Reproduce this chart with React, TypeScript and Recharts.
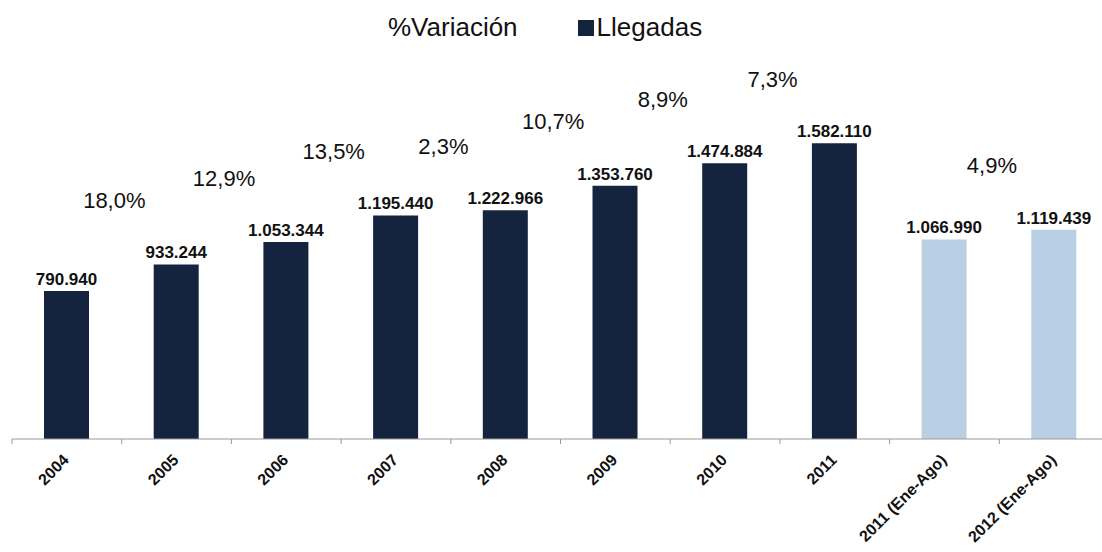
import React from 'react';
import { BarChart, Bar, XAxis, YAxis, Cell, LabelList } from 'recharts';

const categorias = [
  '2004',
  '2005',
  '2006',
  '2007',
  '2008',
  '2009',
  '2010',
  '2011',
  '2011 (Ene-Ago)',
  '2012 (Ene-Ago)'
];
const llegadas = [790940, 933244, 1053344, 1195440, 1222966, 1353760, 1474884, 1582110, 1066990, 1119439];
const variacion = [null, 18.0, 12.9, 13.5, 2.3, 10.7, 8.9, 7.3, null, 4.9];
const periodoParcial = [false, false, false, false, false, false, false, false, true, true];

const data = categorias.map((c, i) => ({
  categoria: c,
  llegadas: llegadas[i],
  variacion: variacion[i],
  parcial: periodoParcial[i]
}));

const CHART_W = 1110;
const CHART_H = 552;
const MARGIN = { top: 65, right: 1, left: 12, bottom: 0 };
const BAND = (CHART_W - MARGIN.left - MARGIN.right) / categorias.length;

const OSCURO = '#14243f';
const CLARO = '#b8cfe4';
const FONT = '"Liberation Sans", Arial, sans-serif';

const miles = (v: number) => String(v).replace(/\B(?=(\d{3})+(?!\d))/g, '.');
const pct = (v: number) => v.toFixed(1).replace('.', ',') + '%';

const TickCategoria = (props: any) => {
  const { x, y, payload } = props;
  return (
    <g>
      <line x1={x - BAND / 2} y1={y} x2={x - BAND / 2} y2={y + 5} stroke="#999" />
      <g transform={`translate(${x + 3},${y + 22})`}>
        <text
          x={0}
          y={0}
          textAnchor="end"
          transform="rotate(-45)"
          fontFamily={FONT}
          fontWeight="bold"
          fontSize={16}
          fill="#111"
        >
          {payload.value}
        </text>
      </g>
    </g>
  );
};

// % de variación: se dibuja entre la barra anterior y la actual
const LabelVariacion = (props: any) => {
  const { x, y, width, value } = props;
  if (value === null || value === undefined) return null;
  return (
    <text
      x={x + width / 2 - BAND / 2 - 7}
      y={y - 64}
      textAnchor="middle"
      dominantBaseline="central"
      fontFamily={FONT}
      fontSize={22}
      fill="#111"
    >
      {pct(value)}
    </text>
  );
};

export default function App() {
  return (
    <div
      style={{
        position: 'absolute',
        left: 0,
        top: 0,
        width: 1102,
        height: 552,
        overflow: 'hidden',
        background: '#fff',
        fontFamily: FONT
      }}
    >
      {/* leyenda */}
      <div
        style={{
          position: 'absolute',
          top: 12,
          left: 388,
          display: 'flex',
          alignItems: 'center',
          fontSize: 26,
          color: '#111',
          whiteSpace: 'nowrap'
        }}
      >
        <span>%Variación</span>
        <span
          style={{ display: 'inline-block', width: 16, height: 16, background: OSCURO, marginLeft: 60, marginRight: 3 }}
        />
        <span>Llegadas</span>
      </div>

      <BarChart width={CHART_W} height={CHART_H} data={data} margin={MARGIN}>
        <XAxis
          dataKey="categoria"
          interval={0}
          height={113}
          tickLine={false}
          tickSize={0}
          tickMargin={0}
          axisLine={{ stroke: '#999' }}
          tick={<TickCategoria />}
        />
        <YAxis hide domain={[0, 2000000]} />
        <Bar dataKey="llegadas" barSize={45} isAnimationActive={false}>
          {data.map((d, i) => (
            <Cell key={i} fill={d.parcial ? CLARO : OSCURO} />
          ))}
          <LabelList
            dataKey="llegadas"
            position="top"
            offset={6}
            formatter={(v: any) => miles(v)}
            style={{ fontFamily: FONT, fontWeight: 'bold', fontSize: 17, fill: '#111' }}
          />
          <LabelList dataKey="variacion" content={<LabelVariacion />} />
        </Bar>
      </BarChart>
    </div>
  );
}
